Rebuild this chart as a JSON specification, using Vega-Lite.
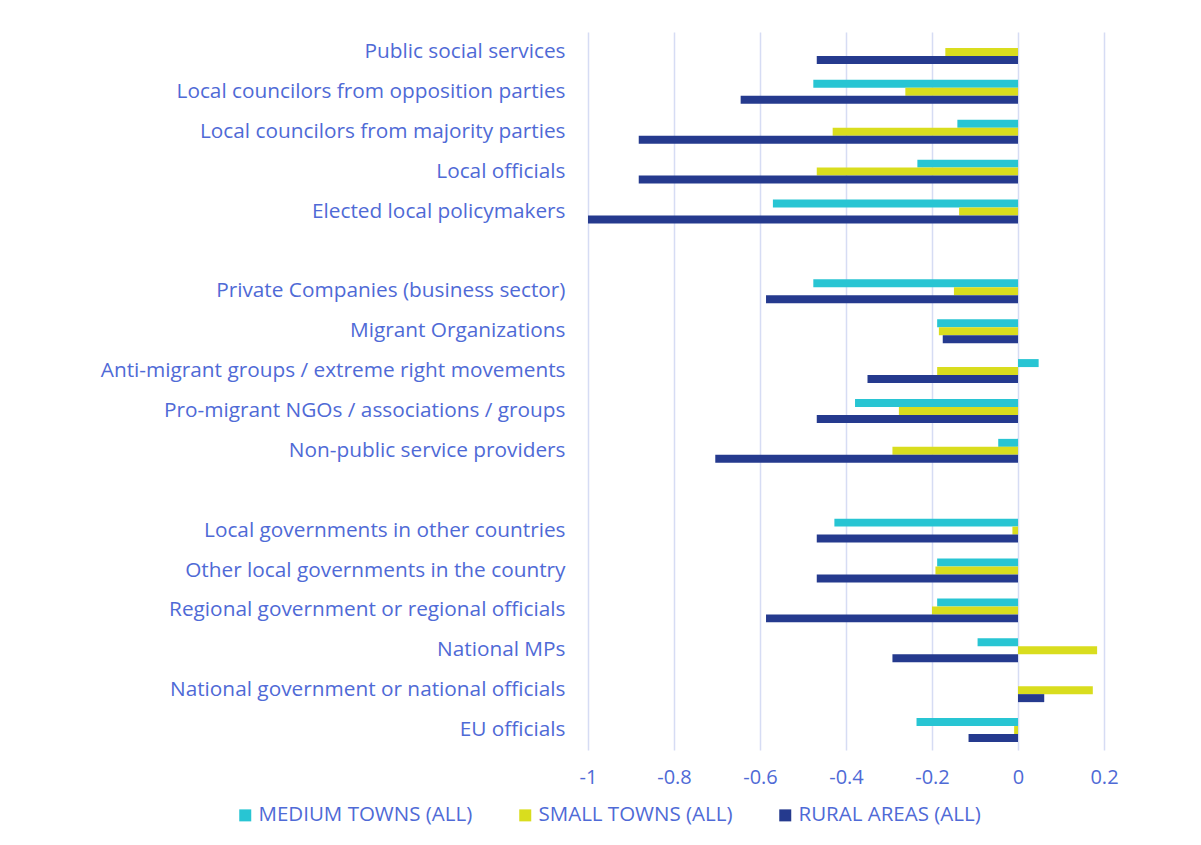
{
  "$schema": "https://vega.github.io/schema/vega-lite/v6.json",
  "autosize": "none",
  "width": 516,
  "height": 718,
  "padding": {"left": 588, "top": 32, "right": 97, "bottom": 95},
  "background": "white",
  "config": {
    "font": "Open Sans",
    "view": {"stroke": null},
    "axis": {"labelFont": "Open Sans", "labelColor": "#4F6AD6"},
    "legend": {"labelFont": "Open Sans", "labelColor": "#4F6AD6"}
  },
  "data": {
    "values": [
      {"category": "Public social services", "series": "MEDIUM TOWNS (ALL)", "value": 0},
      {"category": "Public social services", "series": "SMALL TOWNS (ALL)", "value": -0.169},
      {"category": "Public social services", "series": "RURAL AREAS (ALL)", "value": -0.468},
      {"category": "Local councilors from opposition parties", "series": "MEDIUM TOWNS (ALL)", "value": -0.476},
      {"category": "Local councilors from opposition parties", "series": "SMALL TOWNS (ALL)", "value": -0.262},
      {"category": "Local councilors from opposition parties", "series": "RURAL AREAS (ALL)", "value": -0.645},
      {"category": "Local councilors from majority parties", "series": "MEDIUM TOWNS (ALL)", "value": -0.141},
      {"category": "Local councilors from majority parties", "series": "SMALL TOWNS (ALL)", "value": -0.431},
      {"category": "Local councilors from majority parties", "series": "RURAL AREAS (ALL)", "value": -0.882},
      {"category": "Local officials", "series": "MEDIUM TOWNS (ALL)", "value": -0.234},
      {"category": "Local officials", "series": "SMALL TOWNS (ALL)", "value": -0.468},
      {"category": "Local officials", "series": "RURAL AREAS (ALL)", "value": -0.882},
      {"category": "Elected local policymakers", "series": "MEDIUM TOWNS (ALL)", "value": -0.570},
      {"category": "Elected local policymakers", "series": "SMALL TOWNS (ALL)", "value": -0.137},
      {"category": "Elected local policymakers", "series": "RURAL AREAS (ALL)", "value": -1.0},
      {"category": "Private Companies (business sector)", "series": "MEDIUM TOWNS (ALL)", "value": -0.476},
      {"category": "Private Companies (business sector)", "series": "SMALL TOWNS (ALL)", "value": -0.149},
      {"category": "Private Companies (business sector)", "series": "RURAL AREAS (ALL)", "value": -0.586},
      {"category": "Migrant Organizations", "series": "MEDIUM TOWNS (ALL)", "value": -0.188},
      {"category": "Migrant Organizations", "series": "SMALL TOWNS (ALL)", "value": -0.184},
      {"category": "Migrant Organizations", "series": "RURAL AREAS (ALL)", "value": -0.175},
      {"category": "Anti-migrant groups / extreme right movements", "series": "MEDIUM TOWNS (ALL)", "value": 0.048},
      {"category": "Anti-migrant groups / extreme right movements", "series": "SMALL TOWNS (ALL)", "value": -0.188},
      {"category": "Anti-migrant groups / extreme right movements", "series": "RURAL AREAS (ALL)", "value": -0.350},
      {"category": "Pro-migrant NGOs / associations / groups", "series": "MEDIUM TOWNS (ALL)", "value": -0.379},
      {"category": "Pro-migrant NGOs / associations / groups", "series": "SMALL TOWNS (ALL)", "value": -0.277},
      {"category": "Pro-migrant NGOs / associations / groups", "series": "RURAL AREAS (ALL)", "value": -0.468},
      {"category": "Non-public service providers", "series": "MEDIUM TOWNS (ALL)", "value": -0.046},
      {"category": "Non-public service providers", "series": "SMALL TOWNS (ALL)", "value": -0.292},
      {"category": "Non-public service providers", "series": "RURAL AREAS (ALL)", "value": -0.704},
      {"category": "Local governments in other countries", "series": "MEDIUM TOWNS (ALL)", "value": -0.427},
      {"category": "Local governments in other countries", "series": "SMALL TOWNS (ALL)", "value": -0.013},
      {"category": "Local governments in other countries", "series": "RURAL AREAS (ALL)", "value": -0.468},
      {"category": "Other local governments in the country", "series": "MEDIUM TOWNS (ALL)", "value": -0.188},
      {"category": "Other local governments in the country", "series": "SMALL TOWNS (ALL)", "value": -0.192},
      {"category": "Other local governments in the country", "series": "RURAL AREAS (ALL)", "value": -0.468},
      {"category": "Regional government or regional officials", "series": "MEDIUM TOWNS (ALL)", "value": -0.188},
      {"category": "Regional government or regional officials", "series": "SMALL TOWNS (ALL)", "value": -0.200},
      {"category": "Regional government or regional officials", "series": "RURAL AREAS (ALL)", "value": -0.586},
      {"category": "National MPs", "series": "MEDIUM TOWNS (ALL)", "value": -0.094},
      {"category": "National MPs", "series": "SMALL TOWNS (ALL)", "value": 0.184},
      {"category": "National MPs", "series": "RURAL AREAS (ALL)", "value": -0.292},
      {"category": "National government or national officials", "series": "MEDIUM TOWNS (ALL)", "value": 0},
      {"category": "National government or national officials", "series": "SMALL TOWNS (ALL)", "value": 0.174},
      {"category": "National government or national officials", "series": "RURAL AREAS (ALL)", "value": 0.061},
      {"category": "EU officials", "series": "MEDIUM TOWNS (ALL)", "value": -0.236},
      {"category": "EU officials", "series": "SMALL TOWNS (ALL)", "value": -0.009},
      {"category": "EU officials", "series": "RURAL AREAS (ALL)", "value": -0.115}
    ]
  },
  "mark": {"type": "bar"},
  "encoding": {
    "y": {
      "field": "category",
      "type": "nominal",
      "scale": {
        "domain": ["Public social services", "Local councilors from opposition parties", "Local councilors from majority parties", "Local officials", "Elected local policymakers", " ", "Private Companies (business sector)", "Migrant Organizations", "Anti-migrant groups / extreme right movements", "Pro-migrant NGOs / associations / groups", "Non-public service providers", "  ", "Local governments in other countries", "Other local governments in the country", "Regional government or regional officials", "National MPs", "National government or national officials", "EU officials"],
        "paddingInner": 0.4,
        "paddingOuter": 0.2
      },
      "axis": {
        "title": null,
        "domain": false,
        "ticks": false,
        "grid": false,
        "labelFontSize": 20.8,
        "labelPadding": 23,
        "labelLimit": 600,
        "labelOffset": 0
      }
    },
    "yOffset": {
      "field": "series",
      "type": "nominal",
      "scale": {"domain": ["MEDIUM TOWNS (ALL)", "SMALL TOWNS (ALL)", "RURAL AREAS (ALL)"], "paddingInner": 0, "paddingOuter": 0}
    },
    "x": {
      "field": "value",
      "type": "quantitative",
      "scale": {"domain": [-1, 0.2], "nice": false, "zero": true},
      "axis": {
        "title": null,
        "domain": false,
        "ticks": false,
        "grid": true,
        "gridColor": "#D6DCF4",
        "gridWidth": 1.5,
        "values": [-1, -0.8, -0.6, -0.4, -0.2, 0, 0.2],
        "labelExpr": "datum.value == 0 ? '0' : toString(round(datum.value * 10) / 10)",
        "labelFlush": false,
        "labelFontSize": 20,
        "labelPadding": 17
      }
    },
    "color": {
      "field": "series",
      "type": "nominal",
      "scale": {"domain": ["MEDIUM TOWNS (ALL)", "SMALL TOWNS (ALL)", "RURAL AREAS (ALL)"], "range": ["#28C5D3", "#D9DD1E", "#253A8E"]},
      "legend": {
        "title": null,
        "orient": "none",
        "direction": "horizontal",
        "legendX": -353,
        "legendY": 773,
        "symbolType": "square",
        "symbolSize": 144,
        "symbolStrokeWidth": 0,
        "labelFontSize": 20.5,
        "labelOffset": 3,
        "columnPadding": 42,
        "labelLimit": 400
      }
    }
  }
}
